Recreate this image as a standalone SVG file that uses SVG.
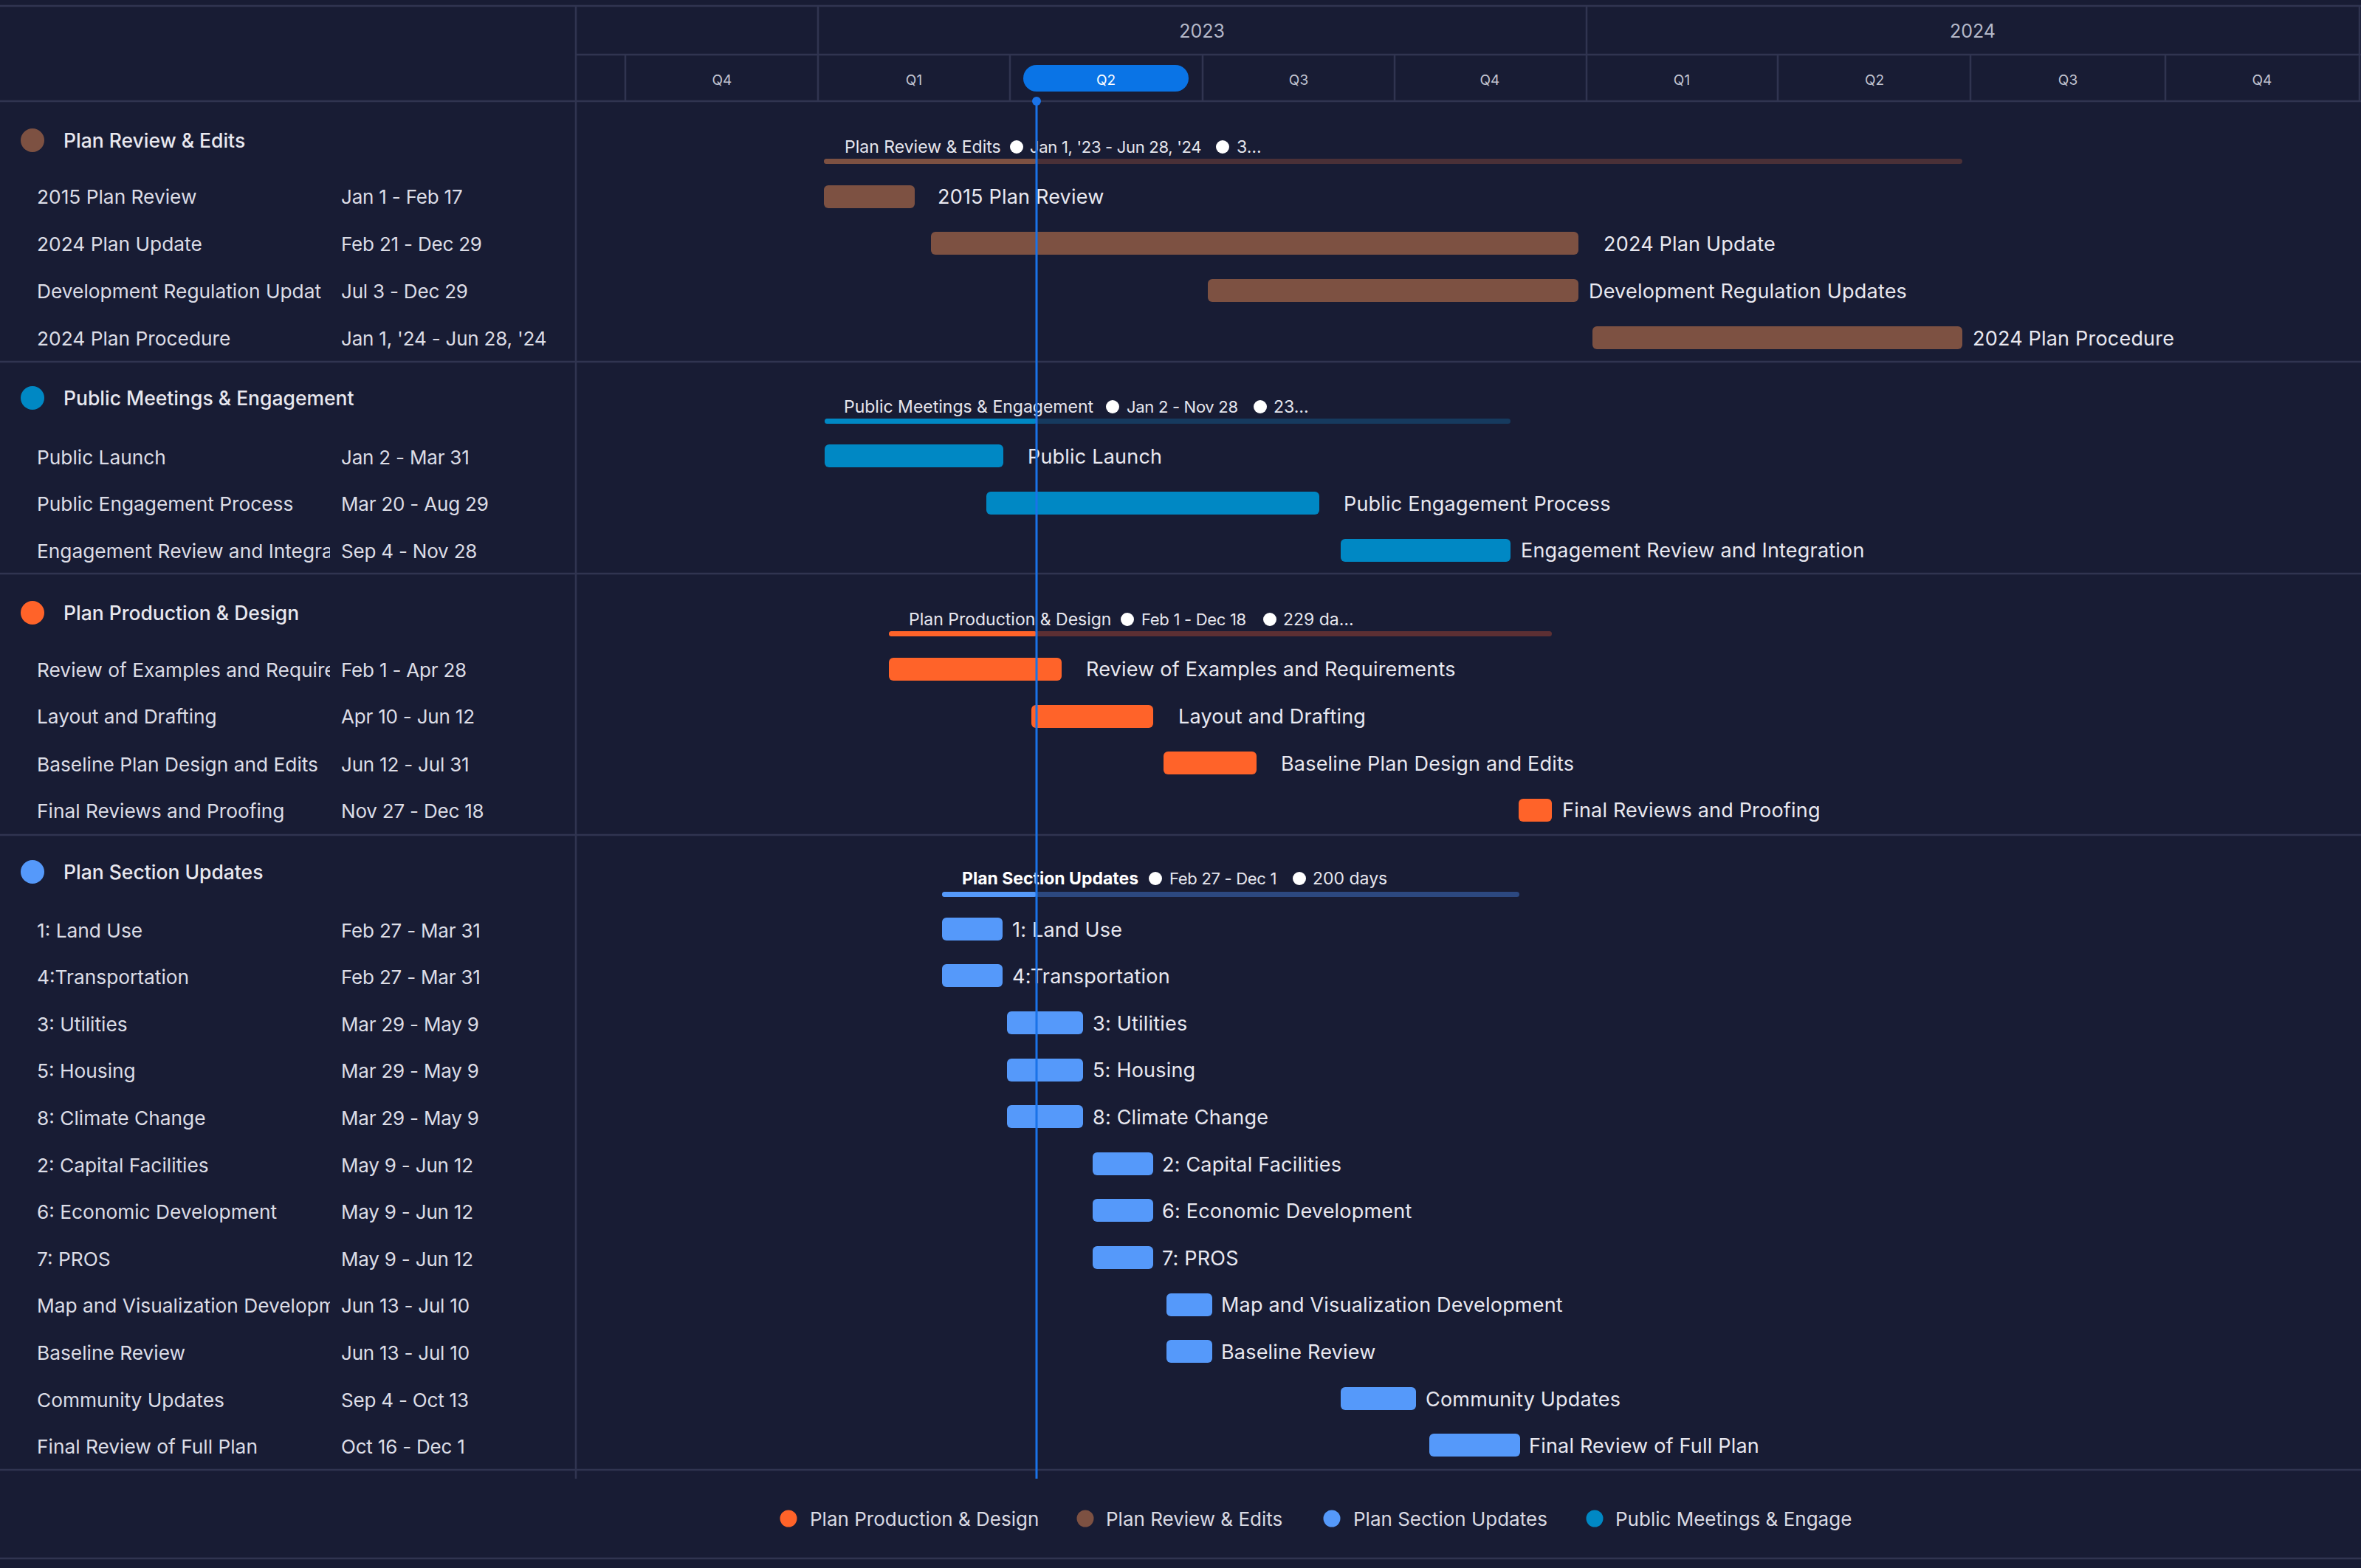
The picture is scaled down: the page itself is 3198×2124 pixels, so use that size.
<svg xmlns="http://www.w3.org/2000/svg" width="3198" height="2124" viewBox="0 0 3198 2124">
<defs>
<style>
text{font-family:Inter,"Noto Sans","Liberation Sans",sans-serif;dominant-baseline:central}
.grid{stroke:#303450;stroke-width:2.5;fill:none}
.q{font-size:19px;fill:#c3c5d2;text-anchor:middle}
.yr{font-size:25px;fill:#b5b8c8;text-anchor:middle}
.hd{font-size:26.5px;font-weight:500;fill:#e8e8ef}
.tn{font-size:26.3px;fill:#dcdde6}
.dt{font-size:26px;fill:#dcdde6;letter-spacing:-0.2px}
.lb{font-size:27px;fill:#e8e8f0;letter-spacing:0.2px}
.sm{font-size:23px;fill:#e6e6ee}
.sd{font-size:22px;fill:#e6e6ee;letter-spacing:-0.3px}
.smb{font-size:23px;fill:#ffffff;font-weight:700}
.wd{fill:#ffffff}
.lg{font-size:26px;fill:#d9dae3}
.br{fill:#7d5142}.brd{fill:#4a3037}
.bl{fill:#0088c4}.bld{fill:#163a5e}
.or{fill:#ff6329}.ord{fill:#5c2f33}
.lb2{fill:#5599fa}.lbd{fill:#2c4880}
</style>
<clipPath id="nameclip"><rect x="0" y="0" width="447" height="2124"/></clipPath>
<clipPath id="legclip"><rect x="0" y="2000" width="2510" height="124"/></clipPath>
</defs>
<rect x="0" y="0" width="3198" height="2124" fill="#181c34"/>

<g id="grid">
<line class="grid" x1="0" y1="8" x2="3198" y2="8"/>
<line class="grid" x1="780" y1="74" x2="3198" y2="74"/>
<line class="grid" x1="0" y1="137" x2="3198" y2="137"/>
<line class="grid" x1="0" y1="490" x2="3198" y2="490"/>
<line class="grid" x1="0" y1="777" x2="3198" y2="777"/>
<line class="grid" x1="0" y1="1131" x2="3198" y2="1131"/>
<line class="grid" x1="0" y1="1991" x2="3198" y2="1991"/>
<line class="grid" x1="0" y1="2111" x2="3198" y2="2111"/>
<line class="grid" x1="780" y1="8" x2="780" y2="2003"/>
<line class="grid" x1="1108" y1="8" x2="1108" y2="137"/>
<line class="grid" x1="2149" y1="8" x2="2149" y2="137"/>
<line class="grid" x1="3196" y1="8" x2="3196" y2="137"/>
<line class="grid" x1="847" y1="74" x2="847" y2="137"/>
<line class="grid" x1="1368" y1="74" x2="1368" y2="137"/>
<line class="grid" x1="1629" y1="74" x2="1629" y2="137"/>
<line class="grid" x1="1889" y1="74" x2="1889" y2="137"/>
<line class="grid" x1="2408" y1="74" x2="2408" y2="137"/>
<line class="grid" x1="2669" y1="74" x2="2669" y2="137"/>
<line class="grid" x1="2933" y1="74" x2="2933" y2="137"/>
</g>

<g id="timescale">
<text class="yr" x="1628" y="42">2023</text>
<text class="yr" x="2672" y="42">2024</text>
<text class="q" x="978" y="108">Q4</text>
<text class="q" x="1238" y="108">Q1</text>
<rect x="1386" y="88" width="224" height="36" rx="18" fill="#0a74e6"/>
<text class="q" x="1498" y="108" style="fill:#ffffff">Q2</text>
<text class="q" x="1759" y="108">Q3</text>
<text class="q" x="2018" y="108">Q4</text>
<text class="q" x="2278" y="108">Q1</text>
<text class="q" x="2539" y="108">Q2</text>
<text class="q" x="2801" y="108">Q3</text>
<text class="q" x="3064" y="108">Q4</text>
</g>

<!-- Section 1 -->
<g id="grp-plan-review">
<circle cx="44" cy="190" r="16" class="br"/>
<text class="hd" x="86" y="190">Plan Review &amp; Edits</text>
<rect x="1116" y="215" width="1542" height="7" rx="3.5" class="brd"/>
<rect x="1116" y="215" width="288" height="7" rx="3.5" class="br"/>
<text class="sm" x="1144" y="199">Plan Review &amp; Edits</text>
<circle class="wd" cx="1377" cy="199" r="9"/>
<text class="sd" x="1395" y="199">Jan 1, '23 - Jun 28, '24</text>
<circle class="wd" cx="1656" cy="199" r="9"/>
<text class="sm" x="1675" y="199">3…</text>
</g>
<g id="task-2015-plan-review">
<text class="tn" x="50" y="266" clip-path="url(#nameclip)">2015 Plan Review</text>
<text class="dt" x="462" y="266">Jan 1 - Feb 17</text>
<rect x="1116" y="251" width="123" height="31" rx="6" class="br"/>
<text class="lb" x="1270" y="266">2015 Plan Review</text>
</g>
<g id="task-2024-plan-update">
<text class="tn" x="50" y="330" clip-path="url(#nameclip)">2024 Plan Update</text>
<text class="dt" x="462" y="330">Feb 21 - Dec 29</text>
<rect x="1261" y="314" width="877" height="31" rx="6" class="br"/>
<text class="lb" x="2172" y="330">2024 Plan Update</text>
</g>
<g id="task-dev-reg">
<text class="tn" x="50" y="394" clip-path="url(#nameclip)">Development Regulation Updat</text>
<text class="dt" x="462" y="394">Jul 3 - Dec 29</text>
<rect x="1636" y="378" width="502" height="31" rx="6" class="br"/>
<text class="lb" x="2152" y="394">Development Regulation Updates</text>
</g>
<g id="task-2024-plan-procedure">
<text class="tn" x="50" y="458" clip-path="url(#nameclip)">2024 Plan Procedure</text>
<text class="dt" x="462" y="458">Jan 1, '24 - Jun 28, '24</text>
<rect x="2157" y="442" width="501" height="31" rx="6" class="br"/>
<text class="lb" x="2672" y="458">2024 Plan Procedure</text>
</g>

<!-- Section 2 -->
<g id="grp-public-meetings">
<circle cx="44" cy="539" r="16" class="bl"/>
<text class="hd" x="86" y="539">Public Meetings &amp; Engagement</text>
<rect x="1117" y="567" width="929" height="7" rx="3.5" class="bld"/>
<rect x="1117" y="567" width="287" height="7" rx="3.5" class="bl"/>
<text class="sm" x="1143" y="551">Public Meetings &amp; Engagement</text>
<circle class="wd" cx="1507" cy="551" r="9"/>
<text class="sd" x="1526" y="551">Jan 2 - Nov 28</text>
<circle class="wd" cx="1707" cy="551" r="9"/>
<text class="sm" x="1725" y="551">23…</text>
</g>
<g id="task-public-launch">
<text class="tn" x="50" y="619" clip-path="url(#nameclip)">Public Launch</text>
<text class="dt" x="462" y="619">Jan 2 - Mar 31</text>
<rect x="1117" y="602" width="242" height="31" rx="6" class="bl"/>
<text class="lb" x="1392" y="618">Public Launch</text>
</g>
<g id="task-public-engagement">
<text class="tn" x="50" y="682" clip-path="url(#nameclip)">Public Engagement Process</text>
<text class="dt" x="462" y="682">Mar 20 - Aug 29</text>
<rect x="1336" y="666" width="451" height="31" rx="6" class="bl"/>
<text class="lb" x="1820" y="682">Public Engagement Process</text>
</g>
<g id="task-engagement-review">
<text class="tn" x="50" y="746" clip-path="url(#nameclip)">Engagement Review and Integra</text>
<text class="dt" x="462" y="746">Sep 4 - Nov 28</text>
<rect x="1816" y="730" width="230" height="31" rx="6" class="bl"/>
<text class="lb" x="2060" y="745">Engagement Review and Integration</text>
</g>

<!-- Section 3 -->
<g id="grp-plan-production">
<circle cx="44" cy="830" r="16" class="or"/>
<text class="hd" x="86" y="830">Plan Production &amp; Design</text>
<rect x="1204" y="855" width="898" height="7" rx="3.5" class="ord"/>
<rect x="1204" y="855" width="200" height="7" rx="3.5" class="or"/>
<text class="sm" x="1231" y="839">Plan Production &amp; Design</text>
<circle class="wd" cx="1527" cy="839" r="9"/>
<text class="sd" x="1546" y="839">Feb 1 - Dec 18</text>
<circle class="wd" cx="1720" cy="839" r="9"/>
<text class="sm" x="1738" y="839">229 da…</text>
</g>
<g id="task-review-examples">
<text class="tn" x="50" y="907" clip-path="url(#nameclip)">Review of Examples and Require</text>
<text class="dt" x="462" y="907">Feb 1 - Apr 28</text>
<rect x="1204" y="891" width="234" height="31" rx="6" class="or"/>
<text class="lb" x="1471" y="906">Review of Examples and Requirements</text>
</g>
<g id="task-layout-drafting">
<text class="tn" x="50" y="970" clip-path="url(#nameclip)">Layout and Drafting</text>
<text class="dt" x="462" y="970">Apr 10 - Jun 12</text>
<rect x="1397" y="955" width="165" height="31" rx="6" class="or"/>
<text class="lb" x="1596" y="970">Layout and Drafting</text>
</g>
<g id="task-baseline-plan-design">
<text class="tn" x="50" y="1035" clip-path="url(#nameclip)">Baseline Plan Design and Edits</text>
<text class="dt" x="462" y="1035">Jun 12 - Jul 31</text>
<rect x="1576" y="1018" width="126" height="31" rx="6" class="or"/>
<text class="lb" x="1735" y="1034">Baseline Plan Design and Edits</text>
</g>
<g id="task-final-reviews">
<text class="tn" x="50" y="1098" clip-path="url(#nameclip)">Final Reviews and Proofing</text>
<text class="dt" x="462" y="1098">Nov 27 - Dec 18</text>
<rect x="2057" y="1082" width="45" height="31" rx="6" class="or"/>
<text class="lb" x="2116" y="1097">Final Reviews and Proofing</text>
</g>

<!-- Section 4 -->
<g id="grp-plan-section">
<circle cx="44" cy="1181" r="16" class="lb2"/>
<text class="hd" x="86" y="1181">Plan Section Updates</text>
<rect x="1276" y="1208" width="782" height="7" rx="3.5" class="lbd"/>
<rect x="1276" y="1208" width="128" height="7" rx="3.5" class="lb2"/>
<text class="smb" x="1303" y="1190">Plan Section Updates</text>
<circle class="wd" cx="1565" cy="1190" r="9"/>
<text class="sd" x="1584" y="1190">Feb 27 - Dec 1</text>
<circle class="wd" cx="1760" cy="1190" r="9"/>
<text class="sm" x="1778" y="1190">200 days</text>
</g>
<g id="task-land-use">
<text class="tn" x="50" y="1260" clip-path="url(#nameclip)">1: Land Use</text>
<text class="dt" x="462" y="1260">Feb 27 - Mar 31</text>
<rect x="1276" y="1243" width="82" height="31" rx="6" class="lb2"/>
<text class="lb" x="1371" y="1259">1: Land Use</text>
</g>
<g id="task-transportation">
<text class="tn" x="50" y="1323" clip-path="url(#nameclip)">4:Transportation</text>
<text class="dt" x="462" y="1323">Feb 27 - Mar 31</text>
<rect x="1276" y="1306" width="82" height="31" rx="6" class="lb2"/>
<text class="lb" x="1371" y="1322">4:Transportation</text>
</g>
<g id="task-utilities">
<text class="tn" x="50" y="1387" clip-path="url(#nameclip)">3: Utilities</text>
<text class="dt" x="462" y="1387">Mar 29 - May 9</text>
<rect x="1364" y="1370" width="103" height="31" rx="6" class="lb2"/>
<text class="lb" x="1480" y="1386">3: Utilities</text>
</g>
<g id="task-housing">
<text class="tn" x="50" y="1450" clip-path="url(#nameclip)">5: Housing</text>
<text class="dt" x="462" y="1450">Mar 29 - May 9</text>
<rect x="1364" y="1434" width="103" height="31" rx="6" class="lb2"/>
<text class="lb" x="1480" y="1449">5: Housing</text>
</g>
<g id="task-climate">
<text class="tn" x="50" y="1514" clip-path="url(#nameclip)">8: Climate Change</text>
<text class="dt" x="462" y="1514">Mar 29 - May 9</text>
<rect x="1364" y="1497" width="103" height="31" rx="6" class="lb2"/>
<text class="lb" x="1480" y="1513">8: Climate Change</text>
</g>
<g id="task-capital">
<text class="tn" x="50" y="1578" clip-path="url(#nameclip)">2: Capital Facilities</text>
<text class="dt" x="462" y="1578">May 9 - Jun 12</text>
<rect x="1480" y="1561" width="82" height="31" rx="6" class="lb2"/>
<text class="lb" x="1574" y="1577">2: Capital Facilities</text>
</g>
<g id="task-economic">
<text class="tn" x="50" y="1641" clip-path="url(#nameclip)">6: Economic Development</text>
<text class="dt" x="462" y="1641">May 9 - Jun 12</text>
<rect x="1480" y="1624" width="82" height="31" rx="6" class="lb2"/>
<text class="lb" x="1574" y="1640">6: Economic Development</text>
</g>
<g id="task-pros">
<text class="tn" x="50" y="1705" clip-path="url(#nameclip)">7: PROS</text>
<text class="dt" x="462" y="1705">May 9 - Jun 12</text>
<rect x="1480" y="1688" width="82" height="31" rx="6" class="lb2"/>
<text class="lb" x="1574" y="1704">7: PROS</text>
</g>
<g id="task-map-viz">
<text class="tn" x="50" y="1768" clip-path="url(#nameclip)">Map and Visualization Developm</text>
<text class="dt" x="462" y="1768">Jun 13 - Jul 10</text>
<rect x="1580" y="1752" width="62" height="31" rx="6" class="lb2"/>
<text class="lb" x="1654" y="1767">Map and Visualization Development</text>
</g>
<g id="task-baseline-review">
<text class="tn" x="50" y="1832" clip-path="url(#nameclip)">Baseline Review</text>
<text class="dt" x="462" y="1832">Jun 13 - Jul 10</text>
<rect x="1580" y="1815" width="62" height="31" rx="6" class="lb2"/>
<text class="lb" x="1654" y="1831">Baseline Review</text>
</g>
<g id="task-community">
<text class="tn" x="50" y="1896" clip-path="url(#nameclip)">Community Updates</text>
<text class="dt" x="462" y="1896">Sep 4 - Oct 13</text>
<rect x="1816" y="1879" width="102" height="31" rx="6" class="lb2"/>
<text class="lb" x="1931" y="1895">Community Updates</text>
</g>
<g id="task-final-review-full">
<text class="tn" x="50" y="1959" clip-path="url(#nameclip)">Final Review of Full Plan</text>
<text class="dt" x="462" y="1959">Oct 16 - Dec 1</text>
<rect x="1936" y="1942" width="123" height="31" rx="6" class="lb2"/>
<text class="lb" x="2071" y="1958">Final Review of Full Plan</text>
</g>

<g id="today-marker">
<line x1="1404" y1="137" x2="1404" y2="2003" stroke="#1a73e8" stroke-width="3"/>
<circle cx="1404" cy="137" r="6" fill="#1a73e8"/>
</g>

<g id="legend">
<circle cx="1068" cy="2057" r="11.5" class="or"/>
<text class="lg" x="1097" y="2057">Plan Production &amp; Design</text>
<circle cx="1470" cy="2057" r="11.5" class="br"/>
<text class="lg" x="1498" y="2057">Plan Review &amp; Edits</text>
<circle cx="1804" cy="2057" r="11.5" class="lb2"/>
<text class="lg" x="1833" y="2057">Plan Section Updates</text>
<circle cx="2160" cy="2057" r="11.5" class="bl"/>
<text class="lg" x="2188" y="2057" clip-path="url(#legclip)">Public Meetings &amp; Engage</text>
</g>
</svg>
